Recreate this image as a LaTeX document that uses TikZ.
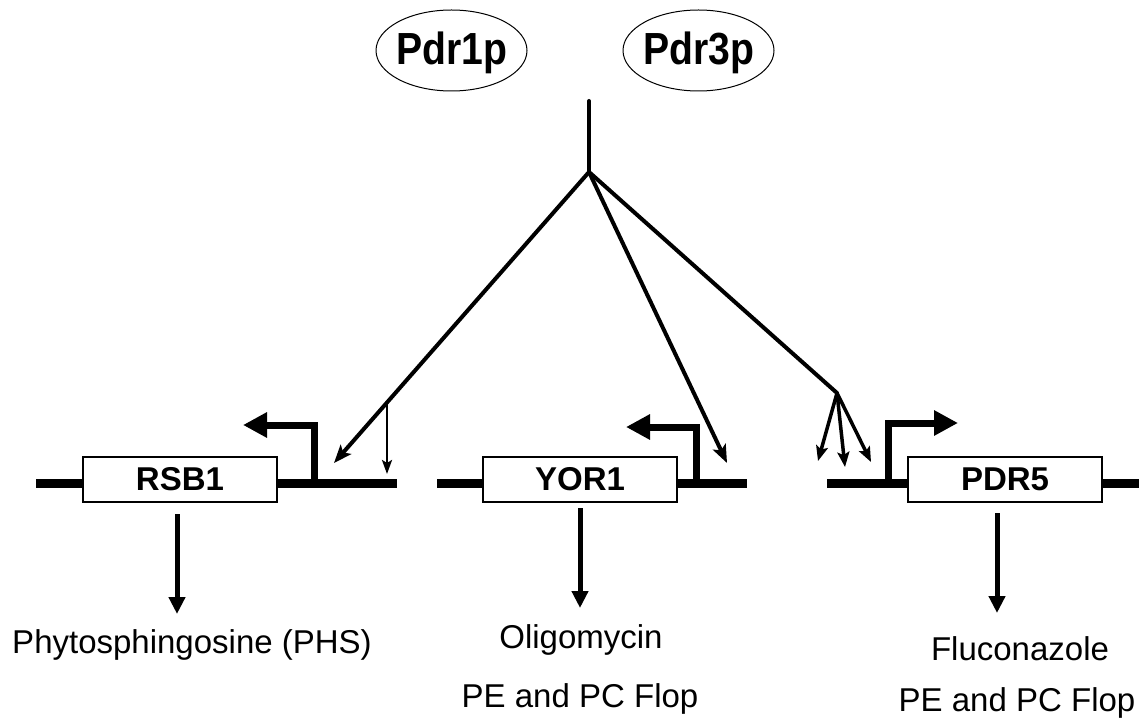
\documentclass[tikz,border=0pt]{standalone}
\usepackage{fontspec}
\setmainfont{Liberation Sans}
\newfontfamily\tffont[FakeStretch=0.87]{Liberation Sans}
\usetikzlibrary{arrows.meta,shapes.geometric}
\begin{document}
\begin{tikzpicture}[x=1pt,y=-1pt,
  lbl/.style={font=\fontsize{33}{38}\selectfont, inner sep=0pt, anchor=base},
  gene/.style={draw, line width=1.3pt, minimum width=194pt, minimum height=45pt, inner sep=0pt, fill=white, font=\bfseries\fontsize{33}{38}\selectfont},
  tf/.style={draw, ellipse, line width=1pt, inner sep=0pt, minimum width=151pt, minimum height=81pt, text height=29pt, text depth=0pt, font=\tffont\bfseries\fontsize{45}{50}\selectfont},
  bar/.style={line width=9.5pt},
  prom/.style={line width=7pt, line join=miter, -{Triangle[length=24pt,width=24pt]}},
  sig/.style={line width=4pt, line cap=round},
  sigarr/.style={line width=4pt, -{Stealth[length=18pt,width=14pt,inset=4pt]}},
  thinarr/.style={line width=2.5pt, -{Stealth[length=14pt,width=10pt,inset=3pt]}},
  fanarr/.style={line width=3.5pt, -{Stealth[length=15pt,width=12pt,inset=3pt]}},
  outarr/.style={line width=5pt, -{Triangle[length=17pt,width=16pt]}}
]
\useasboundingbox (0,0) rectangle (1139,719);

% transcription factors
\node[tf] (p1) at (451.5,50.5) {\makebox[0pt]{Pdr1p}};
\node[tf] (p3) at (698.5,50.5) {\makebox[0pt]{Pdr3p}};

% coordinates on the gene line
\coordinate (rsbA) at (36,483.5);
\coordinate (rsbB) at (397,483.5);
\coordinate (yorA) at (437,483.5);
\coordinate (yorB) at (747,483.5);
\coordinate (pdrA) at (827,483.5);
\coordinate (pdrB) at (1139,483.5);

% genes
\draw[bar] (rsbA) -- (rsbB);
\draw[bar] (yorA) -- (yorB);
\draw[bar] (pdrA) -- (pdrB);
\node[gene] (rsb) at (180,479.5) {RSB1};
\node[gene] (yor) at (580,479.5) {YOR1};
\node[gene] (pdr) at (1005,479.5) {PDR5};

% promoters
\coordinate (rsbP) at (314,483.5);
\coordinate (rsbPc) at (314,425);
\coordinate (rsbPt) at (243,425);
\draw[prom] (rsbP) -- (rsbPc) -- (rsbPt);
\coordinate (yorP) at (696,483.5);
\coordinate (yorPc) at (696,427);
\coordinate (yorPt) at (626,427);
\draw[prom] (yorP) -- (yorPc) -- (yorPt);
\coordinate (pdrP) at (888,483.5);
\coordinate (pdrPc) at (888,423);
\coordinate (pdrPt) at (958,423);
\draw[prom] (pdrP) -- (pdrPc) -- (pdrPt);

% regulatory signal
\coordinate (top) at (589,101);
\coordinate (J) at (589,172);
\draw[sig] (top) -- (J);
\coordinate (rsbT) at (334,463);
\draw[sigarr] (J) -- (rsbT);
\coordinate (br) at (387,403);
\coordinate (brT) at (387,474);
\draw[thinarr] (br) -- (brT);
\coordinate (yorT) at (727,463);
\draw[sigarr] (J) -- (yorT);
\coordinate (bend) at (837,393);
\draw[sig] (J) -- (bend);
\coordinate (pdrT1) at (818,461);
\coordinate (pdrT2) at (845,467);
\coordinate (pdrT3) at (871,462);
\draw[fanarr] (bend) -- (pdrT1);
\draw[fanarr] (bend) -- (pdrT2);
\draw[fanarr] (bend) -- (pdrT3);

% outputs
\coordinate (rsbO1) at (177,514);
\coordinate (rsbO2) at (177,614);
\draw[outarr] (rsbO1) -- (rsbO2);
\coordinate (yorO1) at (580,508);
\coordinate (yorO2) at (580,608);
\draw[outarr] (yorO1) -- (yorO2);
\coordinate (pdrO1) at (997,513);
\coordinate (pdrO2) at (997,613);
\draw[outarr] (pdrO1) -- (pdrO2);

\node[lbl] (phs) at (192,653) {Phytosphingosine (PHS)};
\node[lbl] (oli) at (581,648) {Oligomycin};
\node[lbl] (pe1) at (580,707) {PE and PC Flop};
\node[lbl] (flu) at (1020,660) {Fluconazole};
\node[lbl] (pe2) at (1017,711) {PE and PC Flop};
\end{tikzpicture}
\end{document}
